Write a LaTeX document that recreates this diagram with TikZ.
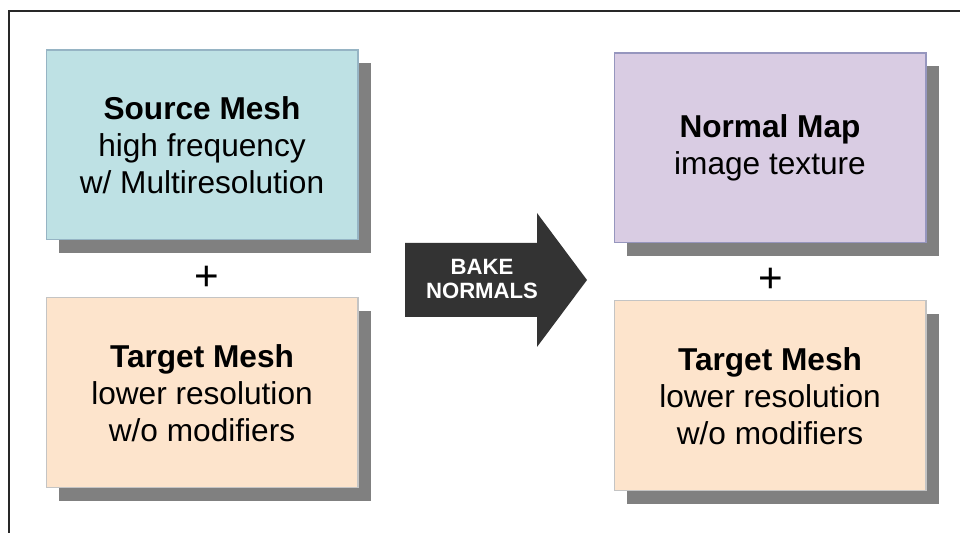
\documentclass[tikz,border=0pt]{standalone}
\usepackage{fontspec}
\setmainfont{Liberation Sans}
\usetikzlibrary{shadows}

\definecolor{sourcecol}{RGB}{190,225,228}
\definecolor{sourceline}{RGB}{150,180,196}
\definecolor{targetcol}{RGB}{253,228,204}
\definecolor{targetline}{RGB}{196,196,196}
\definecolor{normalcol}{RGB}{217,204,227}
\definecolor{normalline}{RGB}{150,150,190}
\definecolor{shadowgray}{RGB}{128,128,128}
\definecolor{bakegray}{RGB}{51,51,51}
\definecolor{framegray}{RGB}{40,40,40}

\begin{document}
\begin{tikzpicture}[x=0.02cm, y=0.02cm, node distance=4.96cm]
    \tikzstyle{block} = [rectangle, draw, line width=0.6pt, text centered, align=center, minimum width=6.24cm, minimum height=3.8cm, font=\fontsize{18}{21}\selectfont, drop shadow={shadow xshift=0.26cm, shadow yshift=-0.26cm, fill=shadowgray, opacity=1}]
    \tikzstyle{plus} = [font=\fontsize{24}{28}\selectfont]

    \useasboundingbox (0,0) rectangle (960,533);
    \draw [framegray, line width=0.7pt] (9,0) -- (9,522) -- (960,522);

    \node (source) [block, fill=sourcecol, draw=sourceline] at (202,388) {\textbf{Source Mesh}\\high frequency\\w/ Multiresolution};
    \node (targetL) [block, fill=targetcol, draw=targetline, below of=source] {\textbf{Target Mesh}\\lower resolution\\w/o modifiers};
    \node (plusL) [plus] at (207,255) {+};

    \node (normal) [block, fill=normalcol, draw=normalline] at (770,385) {\textbf{Normal Map}\\image texture};
    \node (targetR) [block, fill=targetcol, draw=targetline, below of=normal] {\textbf{Target Mesh}\\lower resolution\\w/o modifiers};
    \node (plusR) [plus] at (771,253) {+};

    % bake arrow
    \fill [bakegray] (405,290) -- (537,290) -- (537,320) -- (587,253) -- (537,186) -- (537,216) -- (405,216) -- cycle;
    \node (bake) [text=white, align=center, font=\fontsize{12.6}{13.7}\selectfont\bfseries] at (482,254) {BAKE\\NORMALS};
\end{tikzpicture}
\end{document}
